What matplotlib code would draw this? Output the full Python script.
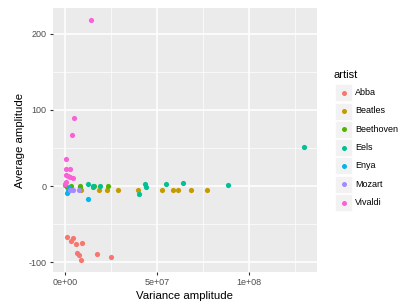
import matplotlib
matplotlib.use("Agg")
import matplotlib.pyplot as plt
from matplotlib.patches import Rectangle
from matplotlib.lines import Line2D
from matplotlib.ticker import FixedLocator, FuncFormatter

plt.rcParams["font.family"] = ["Liberation Sans", "DejaVu Sans"]

artists = ["Abba", "Beatles", "Beethoven", "Eels", "Enya", "Mozart", "Vivaldi"]
colors = ["#F8766D", "#C49A00", "#53B400", "#00C094", "#00B6EB", "#A58AFF", "#FB61D7"]

# variance amplitude (x) and average amplitude (y), per artist
abba_x = [0.9e6, 4.2e6, 3.1e6, 6.0e6, 9.4e6, 6.4e6, 7.4e6, 8.9e6, 1.74e7, 2.48e7]
abba_y = [-67.5, -68.8, -72.4, -76, -75.4, -88.6, -90.4, -97.8, -89.9, -93.8]
beatles_x = [8.7e6, 1.86e7, 2.31e7, 2.88e7, 3.98e7, 5.26e7, 5.87e7, 6.14e7, 6.83e7, 7.70e7]
beatles_y = [-5.5, -5.5, -5.5, -5.5, -5.5, -5.5, -5.5, -5.5, -5.5, -5.5]
beethoven_x = [0.1e6, 0.9e6, 3.3e6, 8.2e6, 8.0e6, 1.5e7, 1.6e7, 2.35e7]
beethoven_y = [1, -1, 0.4, 0, -1.5, -1, 0, -0.5]
eels_x = [1.23e7, 1.55e7, 1.9e7, 4.03e7, 4.35e7, 4.4e7, 5.47e7, 6.43e7, 8.88e7, 1.30e8]
eels_y = [2.2, 0, 0.5, -10.5, 3, -1.5, 2.5, 4.5, 1, 51]
enya_x = [0.9e6, 1.5e6, 2.0e6, 1.23e7]
enya_y = [-9.5, -6, -3, -17.5]
mozart_x = [2.7e6, 4.5e6, 7.4e6]
mozart_y = [-5, -5, -5]
vivaldi_x = [1.4e7, 5.0e6, 3.6e6, 0.5e6, 0.6e6, 2.5e6, 0.3e6, 1.5e6, 4.5e6, 3.0e6, 0.8e6, 0.2e6]
vivaldi_y = [218, 89, 67, 35, 23, 23, 14, 13, 11, 12, 5, 3]

series = [
    (abba_x, abba_y), (beatles_x, beatles_y), (beethoven_x, beethoven_y),
    (eels_x, eels_y), (enya_x, enya_y), (mozart_x, mozart_y), (vivaldi_x, vivaldi_y),
]

fig = plt.figure(figsize=(3.98, 3.04), dpi=100)
ax = fig.add_axes([53 / 398, 1 - 272 / 304, 264 / 398, 264 / 304])
ax.set_facecolor("#EBEBEB")

for (xs, ys), c in zip(series, colors):
    ax.scatter(xs, ys, s=14, color=c, linewidths=0, zorder=3)

ax.set_xlim(-6.5e6, 1.37e8)
ax.set_ylim(-113, 234)

ax.xaxis.set_major_locator(FixedLocator([0, 5e7, 1e8]))
ax.xaxis.set_minor_locator(FixedLocator([2.5e7, 7.5e7, 1.25e8]))
ax.yaxis.set_major_locator(FixedLocator([-100, 0, 100, 200]))
ax.yaxis.set_minor_locator(FixedLocator([-50, 50, 150]))
ax.xaxis.set_major_formatter(FuncFormatter(lambda v, p: {0: "0e+00", 5e7: "5e+07", 1e8: "1e+08"}.get(v, "")))
ax.yaxis.set_major_formatter(FuncFormatter(lambda v, p: f"{int(v)}"))

ax.grid(which="major", color="white", linewidth=1.1)
ax.grid(which="minor", color="white", linewidth=0.5)
ax.set_axisbelow(True)
for sp in ax.spines.values():
    sp.set_visible(False)
ax.tick_params(which="major", length=2.5, width=0.8, color="#333333",
               labelsize=6.5, labelcolor="#4D4D4D", pad=2)
ax.tick_params(which="minor", length=0)

ax.set_xlabel("Variance amplitude", fontsize=8.2, color="black", labelpad=3)
ax.set_ylabel("Average amplitude", fontsize=8.2, color="black", labelpad=3)

# legend, ggplot style
fig.text(333 / 398, 1 - 75 / 304, "artist", fontsize=8, va="center", ha="left")
for i, (name, c) in enumerate(zip(artists, colors)):
    yc = 92.7 + i * 18.3
    fig.add_artist(Rectangle((335 / 398, 1 - (yc + 8.5) / 304), 17 / 398, 17 / 304,
                             transform=fig.transFigure, facecolor="#F2F2F2",
                             edgecolor="white", linewidth=0.5))
    fig.add_artist(Line2D([343.5 / 398], [1 - yc / 304], transform=fig.transFigure,
                          marker="o", markersize=3.6, color=c, markeredgewidth=0))
    fig.text(355 / 398, 1 - yc / 304, name, fontsize=6.5, va="center", ha="left", color="black")

fig.savefig("out.png", dpi=100)
